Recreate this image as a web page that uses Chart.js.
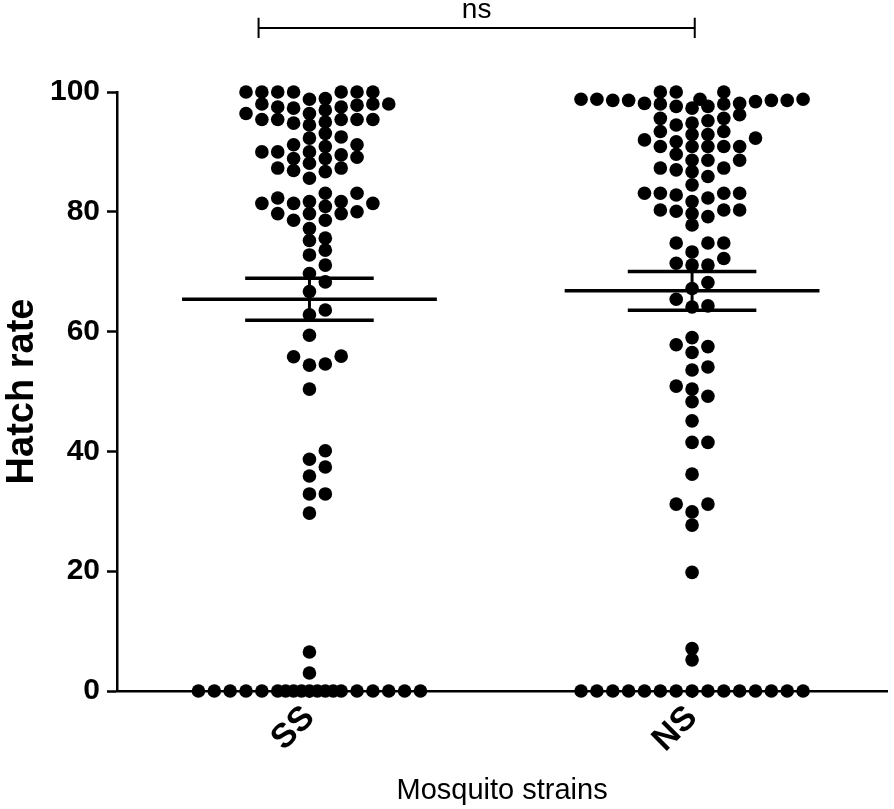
<!DOCTYPE html>
<html>
<head>
<meta charset="utf-8">
<title>Hatch rate by mosquito strain</title>
<script src="https://cdn.jsdelivr.net/npm/chart.js@4.4.1/dist/chart.umd.min.js"></script>
<style>
  html, body { margin: 0; padding: 0; background: #fff; }
  #wrap { width: 894px; height: 809px; position: relative; }
</style>
</head>
<body>
<div id="wrap"><canvas id="chart"></canvas></div>
<script>
// === Data ===

const strains = ['SS', 'NS'];

const ssHatch = [
    100, 100, 100, 100, 100, 100, 100, 98.8, 98.9,
    97.8, 98.0, 97.5, 97.5, 97.0, 97.3, 98.0, 98.0, 96.4, 96.4,
    95.4, 95.4, 95.4, 94.8, 95.0, 95.4, 95.4, 94.5,
    93.1, 92.3, 92.5, 90.9,
    90.0, 88.9, 86.7, 90.0, 88.1, 89.5, 87.3, 90.0, 87.3, 85.6, 91.2, 88.9, 86.9, 91.2, 89.1,
    83.1, 83.1,
    81.7, 81.4, 81.4, 81.4, 79.7, 81.7, 80.0, 82.3, 80.9, 79.7, 79.7,
    78.6, 78.6, 77.2,
    75.6, 75.2, 73.6, 72.8, 71.1, 69.7, 68.3, 66.7, 63.6, 62.8, 59.4,
    55.8, 54.4, 54.6, 55.9, 50.4,
    40.1, 38.7, 37.4, 35.9, 32.9, 32.9, 29.7,
    6.5, 3.0,
    0, 0, 0, 0, 0, 0, 0, 0, 0, 0, 0, 0, 0, 0, 0, 0, 0, 0, 0
];

const nsHatch = [
    100, 100, 100,
    98.6, 98.6, 98.6, 98.6, 98.8, 98.8, 98.8, 98.8,
    98.1, 97.3, 98.0, 97.6, 97.6, 98.0, 98.1, 98.4,
    95.6, 95.2, 94.5, 94.8, 95.6, 96.2,
    93.4, 92.9, 92.3, 91.7, 92.0, 92.9, 93.4,
    90.9, 89.6, 90.9, 88.6, 90.9, 90.9, 88.6, 90.9, 88.6, 87.3,
    87.0, 85.9, 87.3, 86.7, 84.5,
    83.1, 83.1, 82.8, 81.7, 82.3, 83.1, 83.1,
    80.3, 80.1, 79.7, 79.2, 80.3, 80.3, 77.8,
    74.8, 74.8, 74.8, 73.3, 72.2, 71.1, 71.1, 71.4,
    68.2, 67.2, 65.4, 64.3, 64.1,
    59.0, 57.5, 57.8, 56.5, 54.1, 53.6,
    50.4, 48.3, 49.2, 50.9, 45.1, 41.5, 41.5, 36.2,
    29.9, 31.2, 31.2, 27.7, 19.8, 7.1, 5.2,
    0, 0, 0, 0, 0, 0, 0, 0, 0, 0, 0, 0, 0, 0, 0
];

const groupMean = [65.4, 66.8];
const groupSem = [3.5, 3.25];
const yTicks = [0, 20, 40, 60, 80, 100];
const sigLabel = 'ns';

// === Look ===

const FONT = "'Liberation Sans', Arial, sans-serif";
const DOT_RADIUS = 6.8;
const SLOT_PX = 16;      // horizontal distance between swarm columns
const MAX_SLOT = 7;      // columns each side before points start to overlap
const MIN_DY = 11;       // vertical pixels under which two dots collide
const MEAN_HALF = 0.333; // half width of the mean line (x units)
const CAP_HALF = 0.168;  // half width of the SEM caps (x units)

// Bracket above the groups, in data units
const BRACKET_X = [0.867, 2.007];
const BRACKET_Y = 110.7;
const BRACKET_TIP = 1.7;

const swarmGroups = [ssHatch, nsHatch];

// === Helpers ===

function slotOrder() {
    const order = [0];
    for (let i = 1; i <= MAX_SLOT; i++) order.push(i, -i);
    return order;
}

const HALF_SLOTS = [0.5, -0.5, 1.5, -1.5, 2.5, -2.5, 3.5, -3.5];

// simple column beeswarm, lowest values first
function swarm(values, yScale) {
    const sorted = values.slice().sort((a, b) => a - b);
    const placed = [];
    return sorted.map(v => {
        const py = yScale.getPixelForValue(v);
        let slot = slotOrder().find(s =>
            !placed.some(p => Math.abs(p.slot - s) < 0.9 && Math.abs(p.py - py) < MIN_DY));
        if (slot === undefined) {
            slot = HALF_SLOTS.find(s =>
                !placed.some(p => p.slot === s && Math.abs(p.py - py) < MIN_DY));
            if (slot === undefined) slot = 0;
        }
        placed.push({ slot, py });
        return { v, slot };
    });
}

function lineSet(points, width) {
    return {
        type: 'line',
        data: points,
        borderColor: '#000',
        borderWidth: width,
        pointRadius: 0,
        fill: false,
        clip: false,
        order: 2
    };
}

// mean line + SEM bars for every group
function summarySets() {
    const sets = [];
    strains.forEach((s, i) => {
        const cx = i + 1;
        const m = groupMean[i];
        const e = groupSem[i];
        sets.push(lineSet([{ x: cx - MEAN_HALF, y: m }, { x: cx + MEAN_HALF, y: m }], 3.5));
        sets.push(lineSet([{ x: cx - CAP_HALF, y: m + e }, { x: cx + CAP_HALF, y: m + e }], 3.5));
        sets.push(lineSet([{ x: cx - CAP_HALF, y: m - e }, { x: cx + CAP_HALF, y: m - e }], 3.5));
        sets.push(lineSet([{ x: cx, y: m - e }, { x: cx, y: m + e }], 3));
    });
    return sets;
}

function bracketSet() {
    const [a, b] = BRACKET_X;
    return lineSet([
        { x: a, y: BRACKET_Y - BRACKET_TIP },
        { x: a, y: BRACKET_Y + BRACKET_TIP },
        { x: a, y: BRACKET_Y },
        { x: b, y: BRACKET_Y },
        { x: b, y: BRACKET_Y + BRACKET_TIP },
        { x: b, y: BRACKET_Y - BRACKET_TIP }
    ], 2);
}

const sigTextPlugin = {
    id: 'sigText',
    afterDraw(chart) {
        const { ctx, scales: { x, y } } = chart;
        const mid = (x.getPixelForValue(BRACKET_X[0]) + x.getPixelForValue(BRACKET_X[1])) / 2;
        const top = y.getPixelForValue(BRACKET_Y);
        ctx.save();
        ctx.fillStyle = '#000';
        ctx.font = `28px ${FONT}`;
        ctx.textAlign = 'center';
        ctx.textBaseline = 'bottom';
        ctx.fillText(sigLabel, mid, top - 4);
        ctx.restore();
    }
};

// === Chart ===

const ctx = document.getElementById('chart').getContext('2d');

const chart = new Chart(ctx, {
    type: 'scatter',
    data: {
        datasets: [
            ...swarmGroups.map(() => ({
                data: [],
                backgroundColor: '#000',
                borderColor: '#000',
                pointRadius: DOT_RADIUS,
                pointBorderWidth: 0,
                clip: false,
                order: 1
            })),
            ...summarySets(),
            bracketSet()
        ]
    },
    options: {
        responsive: true,
        maintainAspectRatio: false,
        animation: false,
        events: [],
        layout: { padding: { top: 92, right: 0, bottom: 0, left: 0 } },
        plugins: {
            legend: { display: false },
            tooltip: { enabled: false }
        },
        scales: {
            x: {
                type: 'linear',
                min: 0.497,
                max: 2.51,
                afterBuildTicks: s => { s.ticks = strains.map((_, i) => ({ value: i + 1 })); },
                afterFit: s => { s.height = 118; },
                ticks: {
                    callback: v => strains[v - 1] || '',
                    minRotation: 45,
                    maxRotation: 45,
                    color: '#000',
                    padding: 0,
                    font: { family: FONT, size: 34, weight: 'bold' }
                },
                grid: { drawOnChartArea: false, color: '#000', tickLength: 7, tickWidth: 2 },
                border: { color: '#000', width: 2.5 },
                title: {
                    display: true,
                    text: 'Mosquito strains',
                    color: '#000',
                    font: { family: FONT, size: 29 },
                    padding: { top: 0, bottom: 1 }
                }
            },
            y: {
                min: 0,
                max: 100,
                afterBuildTicks: s => { s.ticks = yTicks.map(v => ({ value: v })); },
                afterFit: s => { s.width = 117; },
                ticks: {
                    color: '#000',
                    padding: 7,
                    font: { family: FONT, size: 30, weight: 'bold' }
                },
                grid: { drawOnChartArea: false, color: '#000', tickLength: 10, tickWidth: 2.5 },
                border: { color: '#000', width: 2.5 },
                title: {
                    display: true,
                    text: 'Hatch rate',
                    color: '#000',
                    font: { family: FONT, size: 38, weight: 'bold' },
                    padding: { top: 0, bottom: 0 }
                }
            }
        }
    },
    plugins: [sigTextPlugin]
});

// place the swarm once the scales are laid out
function layoutSwarm() {
    const xs = chart.scales.x;
    const ys = chart.scales.y;
    const pxPerUnit = xs.getPixelForValue(2) - xs.getPixelForValue(1);
    swarmGroups.forEach((values, i) => {
        chart.data.datasets[i].data = swarm(values, ys).map(p => ({
            x: i + 1 + p.slot * SLOT_PX / pxPerUnit,
            y: p.v
        }));
    });
    chart.update('none');
}

layoutSwarm();
</script>
</body>
</html>
